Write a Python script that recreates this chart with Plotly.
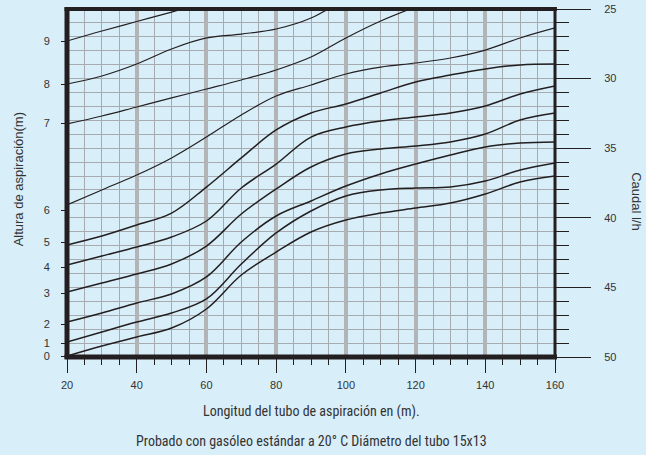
import plotly.graph_objects as go

# ---- data ----
longitud = [20, 30, 40, 50, 60, 70, 80, 90, 100, 110, 120, 130, 140, 150, 160]

# Caudal (l/h) read for each suction-height curve (0 m ... 9 m)
curva_0 = [49.93, 49.21, 48.56, 47.92, 46.55, 44.11, 42.46, 41.02, 40.16, 39.66, 39.30, 38.94, 38.29, 37.43, 37.00]
curva_1 = [48.92, 48.20, 47.49, 46.84, 45.83, 43.32, 41.09, 39.51, 38.43, 38.00, 37.86, 37.79, 37.36, 36.57, 36.06]
curva_2 = [47.49, 46.84, 46.12, 45.47, 44.25, 41.74, 39.87, 38.79, 37.72, 36.85, 36.14, 35.49, 34.91, 34.63, 34.55]
curva_3 = [45.33, 44.68, 44.04, 43.32, 42.03, 39.73, 37.93, 36.35, 35.42, 35.06, 34.84, 34.55, 33.98, 32.97, 32.47]
curva_4 = [43.39, 42.74, 42.10, 41.38, 40.23, 37.86, 36.14, 34.20, 33.48, 33.05, 32.76, 32.47, 31.97, 31.11, 30.53]
curva_5 = [41.95, 41.31, 40.52, 39.66, 37.79, 35.70, 33.69, 32.47, 31.82, 31.03, 30.24, 29.74, 29.31, 29.02, 28.95]
curva_6 = [39.08, 38.00, 36.93, 35.70, 34.20, 32.61, 31.25, 30.46, 29.67, 29.17, 28.88, 28.52, 27.95, 27.08, 26.36]
long_7 = [20, 30, 40, 50, 60, 70, 80, 90, 100, 110, 120]
curva_7 = [33.26, 32.69, 32.04, 31.39, 30.75, 30.10, 29.38, 28.45, 27.08, 25.86, 24.85]
long_8 = [20, 30, 40, 50, 60, 70, 80, 90, 100]
curva_8 = [30.39, 29.81, 28.95, 27.87, 27.08, 26.80, 26.44, 25.65, 24.21]
long_9 = [20, 30, 40, 50, 60]
curva_9 = [27.30, 26.58, 25.90, 25.22, 24.50]

curvas = [
    (longitud, curva_0), (longitud, curva_1), (longitud, curva_2), (longitud, curva_3),
    (longitud, curva_4), (longitud, curva_5), (longitud, curva_6),
    (long_7, curva_7), (long_8, curva_8), (long_9, curva_9),
]

# left axis: suction height labels located on the caudal scale
altura_pos = [49.94, 49.03, 47.66, 45.43, 43.56, 41.74, 39.44, 33.2, 30.4, 27.3]
altura_txt = ["0", "1", "2", "3", "4", "5", "6", "7", "8", "9"]

x_ticks = [20, 40, 60, 80, 100, 120, 140, 160]
caudal_ticks = [25, 30, 35, 40, 45, 50]

BG = "#d8eef9"
INK = "#231f20"
GRID = "#a7abb0"
LBL = dict(family="Liberation Sans, Arial, sans-serif", size=11, color="#333333")
NARROW = "Liberation Sans Narrow, Roboto Condensed, Roboto, sans-serif"

fig = go.Figure()
for i, (xs, ys) in enumerate(curvas):
    fig.add_trace(go.Scatter(
        x=xs, y=ys, mode="lines",
        line=dict(color=INK, width=1.5 if i < 6 else 1.2, shape="spline", smoothing=1.0),
        hoverinfo="skip", showlegend=False,
    ))

fig.update_layout(
    width=646, height=455,
    margin=dict(l=67, r=91, t=9, b=98, autoexpand=False),
    paper_bgcolor=BG, plot_bgcolor=BG,
    showlegend=False,
    xaxis=dict(
        range=[20, 160], tickvals=x_ticks, ticks="outside", ticklen=15, tickwidth=1,
        tickcolor=INK, tickfont=LBL, showgrid=True, gridcolor="#b3b4b6", gridwidth=4,
        zeroline=False, showline=False, automargin=False, ticklabelstandoff=3,
        minor=dict(dtick=5, tick0=20, ticks="outside", ticklen=7, tickwidth=1,
                   tickcolor=INK, showgrid=True, gridcolor=GRID, gridwidth=1),
    ),
    yaxis=dict(
        range=[50, 25], tickvals=altura_pos, ticktext=altura_txt, ticks="outside",
        ticklen=5, tickcolor=INK, tickfont=LBL, showgrid=False, zeroline=False,
        showline=False, automargin=False, ticklabelstandoff=9,
    ),
    yaxis2=dict(
        range=[50, 25], overlaying="y", side="right", tickvals=caudal_ticks,
        ticks="outside", ticklen=35, tickwidth=1, tickcolor=INK, tickfont=LBL,
        showgrid=True, gridcolor=GRID, gridwidth=1, zeroline=False, showline=False,
        automargin=False, ticklabelstandoff=11,
        minor=dict(dtick=1, tick0=25, ticks="outside", ticklen=13, tickwidth=1,
                   tickcolor=INK, showgrid=True, gridcolor=GRID, gridwidth=1),
    ),
)
# dummy trace to activate the right axis
fig.add_trace(go.Scatter(x=[20], y=[50], yaxis="y2", mode="markers",
                         marker=dict(opacity=0), hoverinfo="skip", showlegend=False))

# thick frame
fig.add_shape(type="line", xref="paper", yref="paper", x0=0, x1=0, y0=-0.005, y1=1.005,
              line=dict(color=INK, width=5))
fig.add_shape(type="line", xref="paper", yref="paper", x0=-0.005, x1=1.004, y0=1, y1=1,
              line=dict(color=INK, width=4))
fig.add_shape(type="line", xref="paper", yref="paper", x0=-0.005, x1=1.004, y0=0, y1=0,
              line=dict(color=INK, width=5))
fig.add_shape(type="line", xref="paper", yref="paper", x0=1, x1=1, y0=0, y1=1,
              line=dict(color=INK, width=3))

fig.add_annotation(text="Altura de aspiración(m)", textangle=-90, xref="paper", yref="paper",
                   x=-0.1, y=0.511, xanchor="center", yanchor="middle", showarrow=False,
                   font=dict(family="Liberation Sans, Arial, sans-serif", size=13, color="#333333"))
fig.add_annotation(text="Caudal l/h", textangle=90, xref="paper", yref="paper",
                   x=1.168, y=0.445, xanchor="center", yanchor="middle", showarrow=False,
                   font=dict(family="Liberation Sans, Arial, sans-serif", size=13, color="#333333"))
fig.add_annotation(text="Longitud del tubo de aspiración en (m).", xref="paper", yref="paper",
                   x=0.5, y=-0.157, xanchor="center", yanchor="middle", showarrow=False,
                   font=dict(family=NARROW, size=14, color="#333333"))
fig.add_annotation(text="Probado con gasóleo estándar a 20° C Diámetro del tubo 15x13", xref="paper",
                   yref="paper", x=0.5, y=-0.24, xanchor="center", yanchor="middle",
                   showarrow=False, font=dict(family=NARROW, size=14, color="#333333"))

fig.write_html("out.html", post_script="document.body.style.margin='0';",
               config={"displayModeBar": False})
